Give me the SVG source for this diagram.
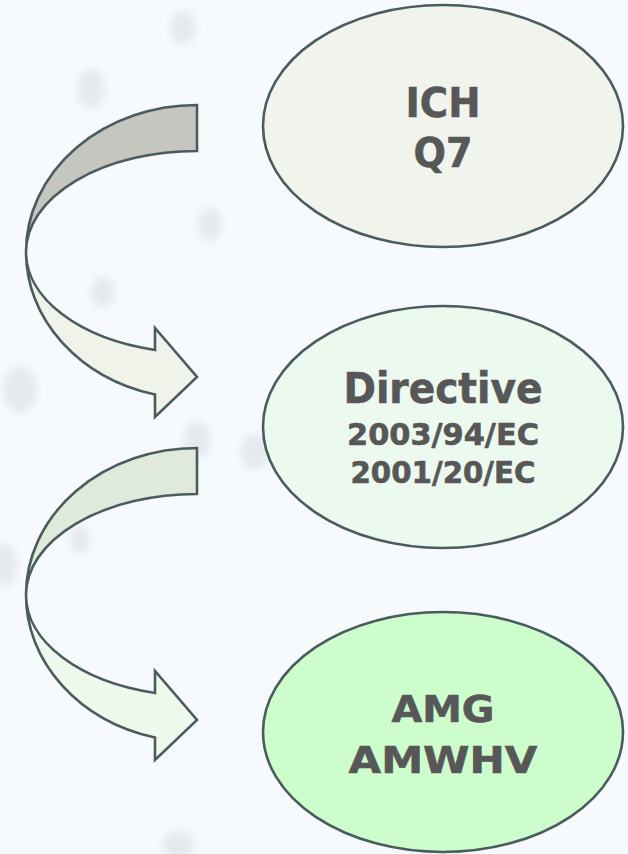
<svg xmlns="http://www.w3.org/2000/svg" width="628" height="854" viewBox="0 0 628 854">
  <defs>
    <filter id="soft" x="-100%" y="-100%" width="300%" height="300%">
      <feGaussianBlur stdDeviation="4"/>
    </filter>
    <style>
      .node { stroke: #4a5c5e; stroke-width: 2.6; }
      .band { stroke: #4a5c5e; stroke-width: 2.6; stroke-linejoin: miter; }
      .label { font-family: "DejaVu Sans", "Liberation Sans", sans-serif; font-weight: 700; fill: #575757; stroke: #575757; stroke-width: 0.6; text-anchor: middle; }
      .blob { fill: #dfe2e8; opacity: 0.7; filter: url(#soft); }
    </style>
  </defs>

  <!-- backdrop with soft speckles -->
  <rect x="0" y="0" width="628" height="854" fill="#f6fafd"/>
  <g id="speckles">
    <ellipse class="blob" cx="91" cy="89" rx="14" ry="20"/>
    <ellipse class="blob" cx="183" cy="28" rx="13" ry="17"/>
    <ellipse class="blob" cx="210" cy="225" rx="12" ry="17"/>
    <ellipse class="blob" cx="103" cy="292" rx="12" ry="16"/>
    <ellipse class="blob" cx="20" cy="390" rx="17" ry="24"/>
    <ellipse class="blob" cx="197" cy="440" rx="14" ry="18"/>
    <ellipse class="blob" cx="255" cy="452" rx="14" ry="18"/>
    <ellipse class="blob" cx="5" cy="565" rx="12" ry="22"/>
    <ellipse class="blob" cx="80" cy="540" rx="10" ry="14"/>
    <ellipse class="blob" cx="178" cy="845" rx="16" ry="14"/>
  </g>

  <!-- curved connectors -->
  <g id="connectors">
    <g id="arrow-ich-directive">
      <path class="band" fill="#f0f3ea" d="M26,252 A171,147 0 0 0 155,394.5 L155,417 L197,377 L155,328 L155,350 A171,101 0 0 1 26,252 Z"/>
      <path class="band" fill="#c5c6bf" d="M197,105 A171,147 0 0 0 26,252 A171,101 0 0 1 197,151 Z"/>
    </g>
    <g id="arrow-directive-amg" transform="translate(0,343)">
      <path class="band" fill="#eef9ec" d="M26,252 A171,147 0 0 0 155,394.5 L155,417 L197,377 L155,328 L155,350 A171,101 0 0 1 26,252 Z"/>
      <path class="band" fill="#dfeadb" d="M197,105 A171,147 0 0 0 26,252 A171,101 0 0 1 197,151 Z"/>
    </g>
  </g>

  <!-- nodes -->
  <g id="node-ich">
    <ellipse class="node" cx="443" cy="126" rx="180" ry="121" fill="#f1f4ec"/>
    <text class="label" x="443" y="117" font-size="41" textLength="75" lengthAdjust="spacingAndGlyphs">ICH</text>
    <text class="label" x="443" y="167" font-size="41" textLength="59" lengthAdjust="spacingAndGlyphs">Q7</text>
  </g>

  <g id="node-directive">
    <ellipse class="node" cx="443" cy="427" rx="180" ry="121" fill="#ecf9ee"/>
    <text class="label" x="443" y="403" font-size="42" textLength="199" lengthAdjust="spacingAndGlyphs">Directive</text>
    <text class="label" x="443" y="445" font-size="30" textLength="192" lengthAdjust="spacingAndGlyphs">2003/94/EC</text>
    <text class="label" x="443" y="483" font-size="30" textLength="185" lengthAdjust="spacingAndGlyphs">2001/20/EC</text>
  </g>

  <g id="node-amg">
    <ellipse class="node" cx="443" cy="732" rx="180" ry="120" fill="#cefdcd"/>
    <text class="label" x="443" y="722" font-size="38" textLength="103" lengthAdjust="spacingAndGlyphs">AMG</text>
    <text class="label" x="443" y="773" font-size="38" textLength="189" lengthAdjust="spacingAndGlyphs">AMWHV</text>
  </g>
</svg>
